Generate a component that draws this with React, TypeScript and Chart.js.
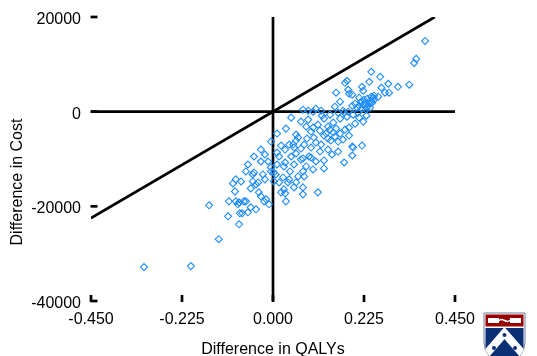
import { useEffect, useRef } from 'react';
import { Chart, registerables } from 'chart.js';

Chart.register(...registerables);

// Incremental QALYs (x) and incremental cost (y) of each bootstrap replicate
const qalyDiff = [
  0.376, 0.354, 0.349, 0.243, 0.265, 0.183, 0.178, 0.238, 0.285, 0.337,
  0.309, 0.220, 0.223, 0.156, 0.188, 0.196, 0.287, 0.277, 0.243, 0.250,
  0.260, 0.213, 0.225, 0.233, 0.240, 0.248, 0.218, 0.228, 0.238, 0.245,
  0.213, 0.223, 0.233, 0.250, 0.208, 0.220, 0.230, 0.203, 0.074, 0.087,
  0.099, 0.119, 0.173, 0.186, 0.161, 0.176, 0.210, 0.198, 0.183, 0.166,
  0.223, 0.213, 0.203, 0.045, 0.069, 0.126, 0.149, 0.099, 0.136, 0.141,
  0.149, 0.156, 0.188, 0.131, 0.062, 0.101, 0.040, 0.052, 0.119, 0.161,
  0.196, 0.220, 0.198, 0.196, 0.176, 0.126, 0.094, 0.106, 0.074, 0.082,
  0.126, 0.062, 0.077, 0.052, 0.074, 0.074, 0.111, -0.005, 0.057, 0.050,
  0.077, -0.047, -0.030, -0.012, -0.005, 0.002, -0.047, -0.092, -0.079, -0.050,
  -0.042, 0.025, 0.037, 0.074, 0.027, 0.015, 0.045, 0.069, 0.089, -0.158,
  -0.099, -0.094, -0.109, -0.092, -0.084, -0.087, -0.067, -0.111, -0.082, -0.076,
  -0.062, -0.042, -0.084, -0.050, -0.055, -0.037, -0.035, -0.030, -0.017, -0.010,
  -0.025, 0.007, 0.015, 0.027, 0.030, 0.032, 0.040, -0.005, -0.022, -0.072,
  -0.055, 0.020, 0.057, 0.002, -0.134, -0.319, -0.203, 0.082, 0.094, 0.111,
  0.116, 0.126, 0.136, 0.143, 0.153, 0.166, 0.173, 0.178, 0.188, 0.106,
  0.094, 0.116, 0.136, 0.146, 0.161, 0.069, 0.057, 0.030, 0.020, 0.010,
  0.030, 0.052, 0.099, 0.010, -0.020, -0.030, -0.062, -0.067, -0.020, 0.042,
  0.057, 0.084, 0.231, 0.240, 0.196, 0.153, 0.106, 0.121, 0.141, 0.087,
  0.032, 0.010, 0.166, 0.186, 0.268,
];

const costDiff = [
  14950, 11150, 10300, 8420, 7370, 6530, 6100, 6300, 5900, 5700,
  5260, 5260, 4420, 4000, 3790, 3580, 4000, 4000, 3160, 3370,
  3160, 2950, 2530, 2740, 2320, 2950, 2100, 1890, 1680, 1890,
  1260, 1470, 1050, 2530, 840, 630, 420, 1680, 420, 210,
  0, 210, 210, 0, -210, -210, -210, -630, -1050, -1470,
  -2100, -1260, -2530, -1260, -2100, -1470, -2320, -3370, -3160, -3790,
  -4420, -3580, -3370, -4630, -5470, -5470, -6950, -7580, -6950, -6320,
  -7370, -7160, -7580, -9260, -10740, -10310, -9680, -10530, -9890, -11580,
  -12000, -13680, -13680, -16000, -16000, -17470, -17050, -6320, -4840, -6950,
  -6950, -9470, -10530, -10530, -11790, -12840, -12840, -14310, -14740, -14740,
  -15370, -13890, -14950, -12630, -11580, -9470, -9470, -10100, -9470, -19790,
  -15160, -16840, -18950, -18950, -19160, -19580, -18950, -22100, -21470, -21470,
  -21260, -20630, -23790, -13260, -16210, -14950, -17050, -17890, -18520, -19580,
  -13260, -13260, -14950, -16420, -17260, -18950, -14310, -12630, -18950, -18950,
  -20200, -17050, -14950, -14740, -26950, -32840, -32630, -3160, -4210, -2740,
  -4000, -5050, -5680, -6110, -5260, -4630, -5890, -3790, -5050, -6530,
  -7580, -8420, -8000, -9050, -8420, -7790, -8840, -8000, -7160, -8630,
  -10740, -11160, -12210, -11160, -9050, -8000, -11160, -12630, -14310, -12630,
  -6110, -5680, -840, 840, 1260, 1050, 630, -840, -630, -1680,
  -3580, -4630, 2100, 4630, 5050,
];

// Reference lines: the two axes through the origin and the WTP threshold (50,000 per QALY)
const hLineX = [-0.45, 0.45];
const hLineY = [0, 0];
const vLineX = [0, 0];
const vLineY = [-40000, 20000];
const wtpLineX = [-0.45, 0.4];
const wtpLineY = [-22500, 20000];

const xTicks = [-0.45, -0.225, 0, 0.225, 0.45];
const xTickLabels = ['-0.450', '-0.225', '0.000', '0.225', '0.450'];
const yTicks = [20000, 0, -20000, -40000];
const yTickLabels = ['20000', '0', '-20000', '-40000'];

const xTitle = 'Difference in QALYs';
const yTitle = 'Difference in Cost';

const FONT = '16px "Liberation Sans", Arial, Helvetica, sans-serif';

function drawLogo(ctx: CanvasRenderingContext2D) {
  const l = 484, r = 525, t = 313, cx = 504.5;
  const path = () => {
    ctx.beginPath();
    ctx.moveTo(l, t);
    ctx.lineTo(r, t);
    ctx.lineTo(r, 342);
    ctx.quadraticCurveTo(r, 358, cx, 366);
    ctx.quadraticCurveTo(l, 358, l, 342);
    ctx.closePath();
  };
  ctx.save();
  path();
  ctx.fillStyle = '#ffffff';
  ctx.fill();
  ctx.strokeStyle = '#6b7a99';
  ctx.lineWidth = 1;
  ctx.stroke();
  ctx.save();
  path();
  ctx.clip();
  ctx.fillStyle = '#0b2f74';
  ctx.fillRect(l + 1.5, t + 15, r - l - 3, 60);
  ctx.fillStyle = '#990000';
  ctx.fillRect(l + 1.5, t + 1.5, r - l - 3, 12);
  ctx.fillStyle = '#ffffff';
  ctx.fillRect(l + 4, t + 5, 11, 5);
  ctx.fillRect(r - 15, t + 5, 11, 5);
  ctx.strokeStyle = '#ffffff';
  ctx.lineWidth = 1.5;
  ctx.beginPath();
  ctx.moveTo(l + 15, t + 8);
  ctx.bezierCurveTo(cx - 3, t + 3, cx + 3, t + 12, r - 15, t + 7);
  ctx.stroke();
  ctx.strokeStyle = '#ffffff';
  ctx.lineWidth = 8;
  ctx.beginPath();
  ctx.moveTo(l - 3, 360);
  ctx.lineTo(cx, 333);
  ctx.lineTo(r + 3, 360);
  ctx.stroke();
  ctx.fillStyle = '#0b2f74';
  [[cx, 335], [l + 10, 348], [r - 10, 348]].forEach(([px, py]) => {
    ctx.beginPath();
    ctx.arc(px, py, 2, 0, Math.PI * 2);
    ctx.fill();
  });
  ctx.restore();
  ctx.restore();
}

const decorPlugin = {
  id: 'decor',
  afterDraw(chart: any) {
    const ctx: CanvasRenderingContext2D = chart.ctx;
    const xs = chart.scales.x;
    const ys = chart.scales.y;
    const ca = chart.chartArea;
    ctx.save();
    ctx.strokeStyle = '#000';
    ctx.lineWidth = 2.7;
    ctx.lineCap = 'butt';
    yTicks.forEach((v) => {
      const py = ys.getPixelForValue(v);
      ctx.beginPath();
      ctx.moveTo(ca.left - 0.5, py);
      ctx.lineTo(ca.left + 6.5, py);
      ctx.stroke();
    });
    xTicks.forEach((v) => {
      const px = xs.getPixelForValue(v);
      ctx.beginPath();
      ctx.moveTo(px, ca.bottom + 1);
      ctx.lineTo(px, ca.bottom - 6);
      ctx.stroke();
    });
    ctx.fillStyle = '#000';
    ctx.font = FONT;
    ctx.textBaseline = 'alphabetic';
    ctx.textAlign = 'right';
    yTicks.forEach((v, i) => {
      const py = ys.getPixelForValue(v);
      ctx.fillText(yTickLabels[i], ca.left - 10, py + 7);
    });
    ctx.textAlign = 'center';
    xTicks.forEach((v, i) => {
      const px = xs.getPixelForValue(v);
      ctx.fillText(xTickLabels[i], px, ca.bottom + 22.5);
    });
    ctx.fillText(xTitle, xs.getPixelForValue(0), ca.bottom + 52.5);
    ctx.save();
    ctx.translate(22, 182);
    ctx.rotate(-Math.PI / 2);
    ctx.fillText(yTitle, 0, 0);
    ctx.restore();
    ctx.restore();
    drawLogo(ctx);
  },
};

export default function App() {
  const canvasRef = useRef<HTMLCanvasElement | null>(null);

  useEffect(() => {
    const canvas = canvasRef.current;
    if (!canvas) return;
    const points = qalyDiff.map((q, i) => ({ x: q, y: costDiff[i] }));
    const lineStyle = {
      showLine: true,
      pointRadius: 0,
      borderColor: '#000',
      borderWidth: 2.7,
      fill: false,
    };
    const chart = new Chart(canvas, {
      type: 'scatter',
      data: {
        datasets: [
          {
            data: points,
            pointStyle: 'rectRot',
            pointRadius: 3.5,
            borderColor: 'rgb(30,140,250)',
            backgroundColor: 'rgba(0,0,0,0)',
            pointBorderWidth: 1.1,
          } as any,
          { ...lineStyle, data: hLineX.map((x, i) => ({ x, y: hLineY[i] })) } as any,
          { ...lineStyle, data: vLineX.map((x, i) => ({ x, y: vLineY[i] })) } as any,
          { ...lineStyle, data: wtpLineX.map((x, i) => ({ x, y: wtpLineY[i] })) } as any,
        ],
      },
      options: {
        responsive: false,
        animation: false,
        devicePixelRatio: 1,
        layout: { padding: { left: 91, right: 82, top: 17, bottom: 55 } },
        plugins: { legend: { display: false }, tooltip: { enabled: false } },
        scales: {
          x: { type: 'linear', min: -0.45, max: 0.45, display: false },
          y: { type: 'linear', min: -40000, max: 20000, display: false },
        },
      },
      plugins: [decorPlugin],
    });
    return () => chart.destroy();
  }, []);

  return (
    <div style={{ position: 'fixed', left: 0, top: 0, width: 537, height: 356, background: '#fff' }}>
      <canvas ref={canvasRef} width={537} height={356} />
    </div>
  );
}
